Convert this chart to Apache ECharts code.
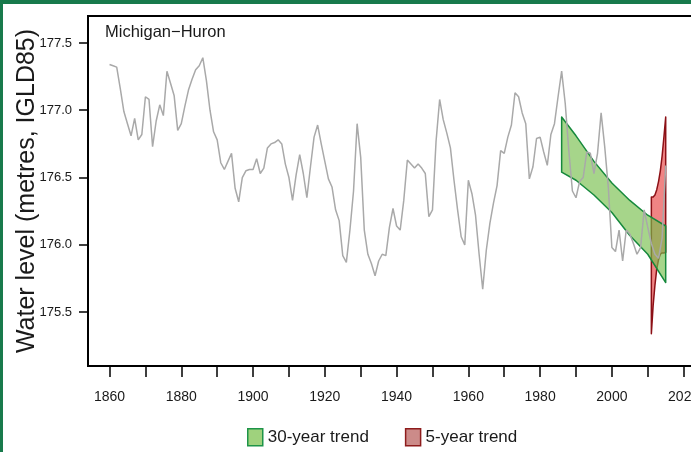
<!DOCTYPE html>
<html>
<head>
<meta charset="utf-8">
<script src="https://cdn.jsdelivr.net/npm/echarts@6/dist/echarts.min.js"></script>
<style>
  html, body { margin: 0; padding: 0; background: #fff; }
  #chart { width: 691px; height: 452px; }
</style>
</head>
<body>
<div id="chart"></div>
<script>
// annual mean water level, Michigan-Huron, 1860-2015
const levelStartYear = 1860
const waterLevel = [
  177.34, 177.33, 177.32, 177.16, 176.99, 176.90, 176.81, 176.94, 176.78, 176.82,
  177.10, 177.08, 176.73, 176.92, 177.04, 176.96, 177.29, 177.20, 177.11, 176.85,
  176.90, 177.03, 177.15, 177.23, 177.30, 177.33, 177.39, 177.22, 177.00, 176.84,
  176.78, 176.61, 176.56, 176.62, 176.68, 176.42, 176.32, 176.50, 176.55, 176.56,
  176.56, 176.64, 176.53, 176.57, 176.72, 176.75, 176.76, 176.78, 176.75, 176.60,
  176.50, 176.33, 176.52, 176.67, 176.53, 176.35, 176.58, 176.80, 176.89, 176.75,
  176.62, 176.49, 176.43, 176.26, 176.18, 175.92, 175.87, 176.11, 176.40, 176.90,
  176.65, 176.11, 175.93, 175.86, 175.77, 175.88, 175.93, 175.92, 176.13, 176.27,
  176.14, 176.11, 176.33, 176.63, 176.60, 176.57, 176.60, 176.57, 176.53, 176.21,
  176.26, 176.77, 177.08, 176.93, 176.83, 176.72, 176.48, 176.26, 176.06, 176.00,
  176.48, 176.38, 176.22, 175.93, 175.67, 175.96, 176.16, 176.31, 176.44, 176.70,
  176.68, 176.80, 176.89, 177.13, 177.10, 176.98, 176.90, 176.49, 176.58, 176.79,
  176.80, 176.69, 176.59, 176.82, 176.90, 177.10, 177.29, 177.05, 176.70, 176.40,
  176.35, 176.47, 176.50, 176.69, 176.68, 176.53, 176.68, 176.98, 176.73, 176.43,
  175.98, 175.95, 176.11, 175.88, 176.11, 176.08, 176.01, 175.93, 175.98, 176.26,
  176.13, 176.01, 175.93, 175.90, 176.05, 176.59
]

// 30-year trend envelope
const trend30Years = [1986, 1990, 1995, 2000, 2005, 2010, 2015]
const trend30Upper = [176.95, 176.81, 176.62, 176.46, 176.33, 176.22, 176.14]
const trend30Lower = [176.54, 176.48, 176.37, 176.24, 176.07, 175.93, 175.72]

// 5-year trend envelope
const trend5Years = [2011, 2011.5, 2012, 2012.5, 2013, 2013.5, 2014, 2014.5, 2015]
const trend5Upper = [176.355, 176.355, 176.37, 176.41, 176.47, 176.55, 176.66, 176.80, 176.95]
const trend5Lower = [175.34, 175.55, 175.70, 175.82, 175.89, 175.93, 175.94, 175.94, 175.945]

const yearTicks = [1860, 1870, 1880, 1890, 1900, 1910, 1920, 1930, 1940, 1950, 1960, 1970, 1980, 1990, 2000, 2010, 2020]
const yearLabels = [1860, 1880, 1900, 1920, 1940, 1960, 1980, 2000, 2020]
const levelTicks = [175.5, 176.0, 176.5, 177.0, 177.5]

const sans = "'Liberation Sans', Arial, sans-serif"
const frameGreen = '#187a4c'

function bandSeries(name, years, upper, lower, fill, stroke, z) {
  return {
    name: name,
    type: 'custom',
    z: z,
    data: years.map((yr, i) => [yr, lower[i], upper[i]]),
    encode: { x: 0, y: [1, 2] },
    renderItem(params, api) {
      if (params.dataIndex !== 0) return
      const top = years.map((yr, i) => api.coord([yr, upper[i]]))
      const bottom = years.map((yr, i) => api.coord([yr, lower[i]])).reverse()
      return {
        type: 'polygon',
        shape: { points: top.concat(bottom) },
        style: { fill: fill, stroke: stroke, lineWidth: 1.5, lineJoin: 'round' }
      }
    }
  }
}

const chart = echarts.init(document.getElementById('chart'))
const option = {
  animation: false,
  title: {
    text: 'Michigan\u2212Huron',
    left: 105,
    top: 24,
    padding: 0,
    textStyle: { fontFamily: sans, fontSize: 16.5, fontWeight: 'normal', color: '#1a1a1a' }
  },
  graphic: [
    { type: 'rect', shape: { x: 0, y: 0, width: 691, height: 4 }, style: { fill: frameGreen } },
    { type: 'rect', shape: { x: 0, y: 0, width: 3, height: 452 }, style: { fill: frameGreen } }
  ],
  legend: {
    left: 247,
    top: 428,
    padding: 0,
    itemWidth: 15,
    itemHeight: 17,
    itemGap: 36,
    textStyle: { fontFamily: sans, fontSize: 17, color: '#1a1a1a' },
    data: [
      { name: '30-year trend', icon: 'rect', itemStyle: { color: '#9fd27d', borderColor: '#1e9448', borderWidth: 1.5 } },
      { name: '5-year trend', icon: 'rect', itemStyle: { color: '#cc8b89', borderColor: '#8e1c1c', borderWidth: 1.5 } }
    ]
  },
  grid: {
    left: 88,
    top: 16,
    width: 610,
    height: 350,
    containLabel: false,
    outerBoundsMode: 'none',
    show: true,
    borderColor: '#000',
    borderWidth: 2
  },
  xAxis: {
    type: 'value',
    min: 1854,
    max: 2024,
    axisLine: { lineStyle: { color: '#000', width: 2 } },
    axisTick: { customValues: yearTicks, length: 11, lineStyle: { color: '#000', width: 1.5 } },
    axisLabel: {
      customValues: yearLabels,
      margin: 24,
      fontFamily: sans,
      fontSize: 14,
      color: '#1a1a1a',
      formatter: v => String(v)
    },
    splitLine: { show: false }
  },
  yAxis: {
    type: 'value',
    min: 175.1,
    max: 177.7,
    name: 'Water level (metres, IGLD85)',
    nameLocation: 'middle',
    nameGap: 48,
    nameMoveOverlap: false,
    nameTextStyle: { fontFamily: sans, fontSize: 25, color: '#1a1a1a' },
    axisLine: { show: true, lineStyle: { color: '#000', width: 2 } },
    axisTick: { show: true, customValues: levelTicks, length: 9, lineStyle: { color: '#000', width: 1.5 } },
    axisLabel: {
      customValues: levelTicks,
      margin: 16,
      fontFamily: sans,
      fontSize: 13,
      color: '#1a1a1a',
      formatter: v => v.toFixed(1)
    },
    splitLine: { show: false }
  },
  series: [
    bandSeries('5-year trend', trend5Years, trend5Upper, trend5Lower, '#f08484', '#8c1016', 2),
    bandSeries('30-year trend', trend30Years, trend30Upper, trend30Lower, 'rgba(118,190,75,0.65)', '#16893c', 3),
    {
      name: 'Water level',
      type: 'line',
      z: 4,
      symbol: 'none',
      data: waterLevel.map((v, i) => [levelStartYear + i, v]),
      lineStyle: { color: '#a9a9a9', width: 1.5 }
    }
  ]
}
chart.setOption(option)
</script>
</body>
</html>
